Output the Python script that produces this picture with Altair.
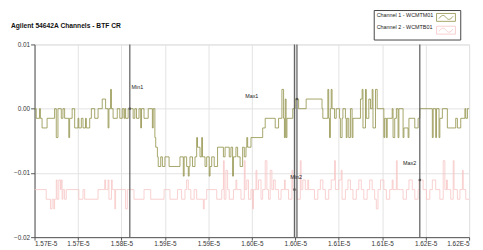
import altair as alt
import pandas as pd

# time in ns, values in volts
ch1 = [(15695,0),(15697,-0.0015),(15701,0),(15702,-0.0015),(15704,-0.003),(15710,-0.0015),(15719,0),(15721,-0.0045),(15723,0),
(15727,-0.0015),(15729,0),(15731,-0.0015),(15736,-0.0045),(15737,-0.0015),(15740,0),(15743,-0.003),(15747,-0.0015),(15748,-0.003),
(15751,-0.0015),(15753,-0.003),(15756,-0.0015),(15757,-0.003),(15761,-0.0015),(15763,0),(15767,-0.0015),(15771,0),(15776,0.0015),
(15780,0),(15783,-0.003),(15784,0),(15786,0.003),(15787,0),(15789,-0.0015),(15794,0),(15797,-0.0015),(15800,0),(15802,-0.0015),
(15803,0),(15804,-0.0015),(15807,0),(15813,-0.0015),(15815,0),(15817,-0.0015),(15820,0),(15822,-0.003),(15823,0),(15826,-0.0015),
(15831,0),(15836,-0.003),(15837,0),(15839,-0.0045),(15840,-0.006),(15842,-0.0075),(15843,-0.009),(15846,-0.0075),(15848,-0.009),
(15851,-0.0075),(15856,-0.009),(15869,-0.0075),(15873,-0.0105),(15874,-0.0075),(15877,-0.009),(15879,-0.0105),(15880,-0.009),
(15881,-0.0075),(15884,-0.009),(15887,-0.0075),(15889,-0.0045),(15890,-0.006),(15893,-0.0075),(15895,-0.0045),(15896,-0.0075),
(15899,-0.009),(15901,-0.0075),(15904,-0.0105),(15905,-0.009),(15907,-0.0075),(15910,-0.009),(15914,-0.006),(15921,-0.0075),
(15923,-0.006),(15928,-0.0075),(15930,-0.006),(15932,-0.0105),(15933,-0.0075),(15936,-0.006),(15938,-0.0075),(15941,-0.009),
(15944,-0.006),(15946,-0.0075),(15948,-0.006),(15949,-0.0045),(15950,-0.006),(15954,-0.0045),(15968,-0.003),(15971,-0.0015),
(15983,-0.003),(15987,-0.0015),(15991,0.003),(15993,-0.0015),(15994,-0.0045),(15995,0.0015),(15996,-0.0045),(15997,-0.0015),
(16004,0),(16007,0.0015),(16011,0),(16020,0.0015),(16039,0),(16040,-0.0015),(16046,0.003),(16047,-0.0015),(16048,-0.0045),
(16049,0),(16050,0.003),(16051,0),(16054,-0.0015),(16056,0),(16060,-0.0015),(16061,-0.0045),(16063,-0.0015),(16064,0),
(16067,-0.0015),(16068,-0.0045),(16069,-0.0015),(16071,-0.0045),(16073,0),(16075,-0.0045),(16076,-0.0015),(16085,0.0015),
(16087,0.003),(16088,-0.003),(16091,0.003),(16092,-0.0015),(16095,0.0015),(16097,0),(16099,0.003),(16100,-0.003),(16103,0.003),
(16105,0),(16113,-0.0045),(16114,-0.0015),(16116,-0.0045),(16117,-0.0015),(16123,0),(16124,-0.0045),(16126,-0.0015),(16128,0),
(16130,-0.0045),(16131,0),(16136,-0.0045),(16137,-0.003),(16142,-0.0045),(16143,-0.0015),(16150,-0.003),(16154,-0.0015),
(16156,0),(16171,-0.0045),(16172,0),(16175,-0.0045),(16176,0),(16179,-0.0045),(16180,-0.0015),(16183,0),(16189,-0.003),
(16199,-0.0015),(16201,-0.003),(16205,-0.0015),(16210,0),(16211,-0.0015),(16213,0),(16215,0)]

ch2 = [(15695,-0.0126),(15709,-0.0141),(15714,-0.0156),(15716,-0.0141),(15718,-0.0156),(15719,-0.0141),(15721,-0.0111),
(15722,-0.0141),(15724,-0.0111),(15726,-0.0126),(15727,-0.0111),(15728,-0.0141),(15729,-0.0126),(15731,-0.0141),(15733,-0.0126),
(15748,-0.0141),(15753,-0.0126),(15755,-0.0141),(15771,-0.0126),(15779,-0.0111),(15780,-0.0126),(15783,-0.0111),(15784,-0.0141),
(15787,-0.0111),(15788,-0.0126),(15791,-0.0156),(15792,-0.0126),(15804,-0.0156),(15806,-0.0126),(15814,-0.0141),(15826,-0.0126),
(15834,-0.0141),(15850,-0.0126),(15857,-0.0141),(15866,-0.0126),(15871,-0.0141),(15875,-0.0126),(15877,-0.0111),(15879,-0.0126),
(15882,-0.0141),(15886,-0.0126),(15889,-0.0141),(15897,-0.0156),(15898,-0.0141),(15901,-0.0126),(15913,-0.0141),(15919,-0.0126),
(15921,-0.0081),(15922,-0.0141),(15924,-0.0096),(15926,-0.0126),(15928,-0.0141),(15933,-0.0126),(15936,-0.0111),(15937,-0.0126),
(15942,-0.0141),(15946,-0.0081),(15947,-0.0126),(15949,-0.0111),(15951,-0.0141),(15954,-0.0126),(15956,-0.0156),(15957,-0.0126),
(15960,-0.0096),(15961,-0.0126),(15963,-0.0111),(15966,-0.0141),(15968,-0.0126),(15971,-0.0081),(15973,-0.0126),(15975,-0.0141),
(15977,-0.0096),(15979,-0.0126),(15981,-0.0111),(15983,-0.0126),(15987,-0.0141),(15990,-0.0126),(15994,-0.0111),(15995,-0.0126),
(15999,-0.0141),(16003,-0.0096),(16004,-0.0126),(16009,-0.0141),(16013,-0.0081),(16014,-0.0126),(16016,-0.0111),(16019,-0.0126),
(16022,-0.0111),(16023,-0.0126),(16027,-0.0126),(16030,-0.0141),(16034,-0.0126),(16037,-0.0111),(16040,-0.0126),(16043,-0.0141),
(16047,-0.0126),(16050,-0.0111),(16054,-0.0081),(16055,-0.0126),(16059,-0.0111),(16062,-0.0096),(16063,-0.0141),(16067,-0.0126),
(16070,-0.0111),(16073,-0.0126),(16076,-0.0141),(16080,-0.0126),(16083,-0.0111),(16086,-0.0126),(16089,-0.0141),(16093,-0.0126),
(16096,-0.0111),(16099,-0.0126),(16102,-0.0141),(16104,-0.0156),(16106,-0.0126),(16109,-0.0111),(16113,-0.0126),(16116,-0.0141),
(16120,-0.0126),(16123,-0.0111),(16124,-0.0126),(16128,-0.0081),(16129,-0.0126),(16133,-0.0126),(16136,-0.0141),(16140,-0.0126),
(16143,-0.0111),(16147,-0.0126),(16150,-0.0141),(16154,-0.0126),(16155,-0.0111),(16160,-0.0126),(16164,-0.0141),(16168,-0.0126),
(16171,-0.0111),(16175,-0.0126),(16180,-0.0141),(16184,-0.0081),(16186,-0.0126),(16188,-0.0111),(16189,-0.0126),(16193,-0.0141),
(16196,-0.0081),(16197,-0.0126),(16201,-0.0141),(16204,-0.0126),(16207,-0.0096),(16208,-0.0126),(16211,-0.0141),(16215,-0.0141)]

series = ["Channel 1 - WCMTM01", "Channel 2 - WCMTB01"]
colors = ["#8f8f45", "#f7c4c4"]

cursor_names = ["Min1", "Max1", "Min2", "Max2"]
cursor_t = [15809, 16009, 16006, 16156]
marker_v = [0.0, 0.0015, -0.0126, -0.0111]
label_t = [15811, 15947, 16001, 16136]
label_v = [0.0033, 0.002, -0.0107, -0.0085]

x_ticks = [15695, 15747, 15799, 15851, 15903, 15955, 16007, 16059, 16111, 16163, 16215]
y_ticks = [-0.02, -0.01, 0.0, 0.01]

rows = [{"t": t, "v": v, "series": series[0]} for t, v in ch1] + \
       [{"t": t, "v": v, "series": series[1]} for t, v in ch2]
df = pd.DataFrame(rows)
cur = pd.DataFrame({"name": cursor_names, "t": cursor_t, "mv": marker_v, "lt": label_t, "lv": label_v})

FONT = "Liberation Sans"
xscale = alt.Scale(domain=[15695, 16215], nice=False, zero=False)
yscale = alt.Scale(domain=[-0.02, 0.01], nice=False, zero=False)

xaxis = alt.Axis(values=x_ticks, labelExpr="format(datum.value/10000, '.2f') + 'E-5'", title=None,
                 grid=True, gridColor="#e2e2e2", domainColor="#555", tickColor="#555", tickSize=3,
                 labelFontSize=6.5, labelFont=FONT, labelColor="#333", labelPadding=1)
yaxis = alt.Axis(values=y_ticks, format=".2f", title=None, grid=True, gridColor="#e2e2e2",
                 domainColor="#555", tickColor="#555", tickSize=4, labelFontSize=6.5, labelFont=FONT,
                 labelColor="#333", labelPadding=1)

sym = "M-2.4,-1H2.4V1H-2.4Z M-1.8,0.3C-1.1,-0.7 -0.5,-0.7 0,0 S1.1,0.7 1.8,-0.3"

lines = alt.Chart(df).mark_line(interpolate="step-after", strokeWidth=0.8).encode(
    x=alt.X("t:Q", scale=xscale, axis=xaxis),
    y=alt.Y("v:Q", scale=yscale, axis=yaxis),
    color=alt.Color("series:N", scale=alt.Scale(domain=series, range=colors),
                    legend=alt.Legend(title=series, titleOrient="left", titleFontSize=5.5,
                                      titleFont=FONT, titleFontWeight="normal", titleColor="#222",
                                      titleLineHeight=12, titlePadding=8, titleAnchor="start",
                                      titleBaseline="top",
                                      orient="none", legendX=345, legendY=-35,
                                      symbolType=sym, symbolSize=64, symbolStrokeWidth=0.8,
                                      labelExpr="''", labelFontSize=1, labelOffset=5,
                                      strokeColor="#444", padding=3, rowPadding=0, fillColor="white")),
    order=alt.Order("t:Q"),
    detail="series:N",
)

rules = alt.Chart(cur).mark_rule(color="#666", strokeWidth=1.3).encode(x=alt.X("t:Q", scale=xscale))
points = alt.Chart(cur).mark_point(shape="square", filled=True, size=5, color="#555", opacity=1).encode(
    x=alt.X("t:Q", scale=xscale), y=alt.Y("mv:Q", scale=yscale))
texts = alt.Chart(cur).mark_text(align="left", baseline="middle", fontSize=5.5, font=FONT, color="#222").encode(
    x=alt.X("lt:Q", scale=xscale), y=alt.Y("lv:Q", scale=yscale), text="name:N")

chart = alt.layer(lines, rules, points, texts).properties(
    width=442, height=196,
    autosize=alt.AutoSizeParams(type="none"),
    padding={"left": 27, "top": 35, "right": 6, "bottom": 10},
    title=alt.TitleParams(text="Agilent 54642A Channels - BTF CR", anchor="start", frame="group",
                          fontSize=6.8, fontWeight="bold", font=FONT, color="#111", offset=10, dx=-24, dy=31),
).configure_view(stroke=None).configure(background="white")

chart.save("out.html", embed_options={"renderer": "svg", "actions": False})
